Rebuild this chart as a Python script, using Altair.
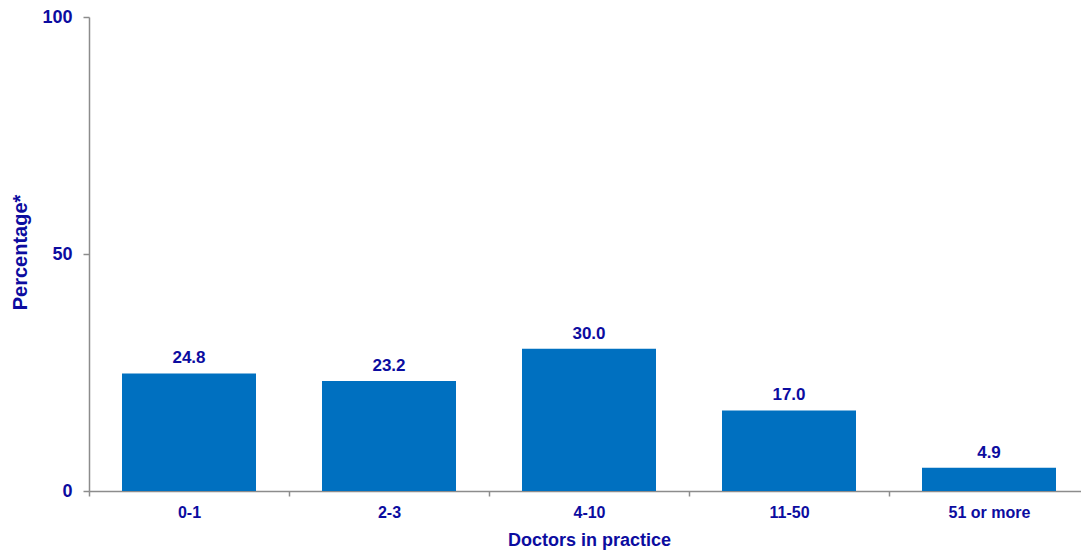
import altair as alt
import pandas as pd

# Practice size categories and share of respondents (%)
categories = ["0-1", "2-3", "4-10", "11-50", "51 or more"]
percentages = [24.8, 23.2, 30.0, 17.0, 4.9]

df = pd.DataFrame({"size": categories, "pct": percentages})
df["label"] = df["pct"].map(lambda v: f"{v:.1f}")

TEXT = "#0C0CA0"
BAR = "#0070C0"
AXIS = "#8C8C8C"
FONT = "Liberation Sans"

# Category bands are 200px wide; the last band runs past the right edge
x_scale = alt.Scale(paddingInner=0, paddingOuter=0, range=[0, 1000])

x = alt.X(
    "size:N",
    sort=categories,
    scale=x_scale,
    axis=alt.Axis(
        title="Doctors in practice",
        labelAngle=0,
        tickBand="extent",
        tickSize=5,
        labelPadding=8,
        labelFontSize=16,
        titleFontSize=18,
        titleY=40,
        titleBaseline="top",
    ),
)
y = alt.Y(
    "pct:Q",
    scale=alt.Scale(domain=[0, 100]),
    axis=alt.Axis(
        title="Percentage*",
        values=[0, 50, 100],
        tickSize=6,
        labelPadding=11,
        labelFontSize=18,
        titleFontSize=20,
        titleX=-69,
        titleY=235,
        titleAngle=-90,
        titleAlign="center",
        titleBaseline="middle",
        grid=False,
    ),
)

bars = alt.Chart(df).mark_bar(color=BAR, width={"band": 0.67}).encode(x=x, y=y)

labels = alt.Chart(df).mark_text(
    dy=-10, baseline="alphabetic", fontSize=17, fontWeight="bold", font=FONT, color=TEXT
).encode(x=alt.X("size:N", sort=categories, scale=x_scale), y="pct:Q", text="label:N")

chart = (
    alt.layer(bars, labels)
    .properties(
        width=992,
        height=474,
        autosize=alt.AutoSizeParams(type="none"),
        padding={"left": 89, "top": 17, "right": 0, "bottom": 63},
    )
    .configure_view(stroke=None)
    .configure_axis(
        labelFont=FONT,
        titleFont=FONT,
        labelFontWeight="bold",
        titleFontWeight="bold",
        labelColor=TEXT,
        titleColor=TEXT,
        domainColor=AXIS,
        tickColor=AXIS,
        domainWidth=1.5,
        tickWidth=1.5,
    )
)

chart.save("out.html", embed_options={"renderer": "svg", "actions": False})
